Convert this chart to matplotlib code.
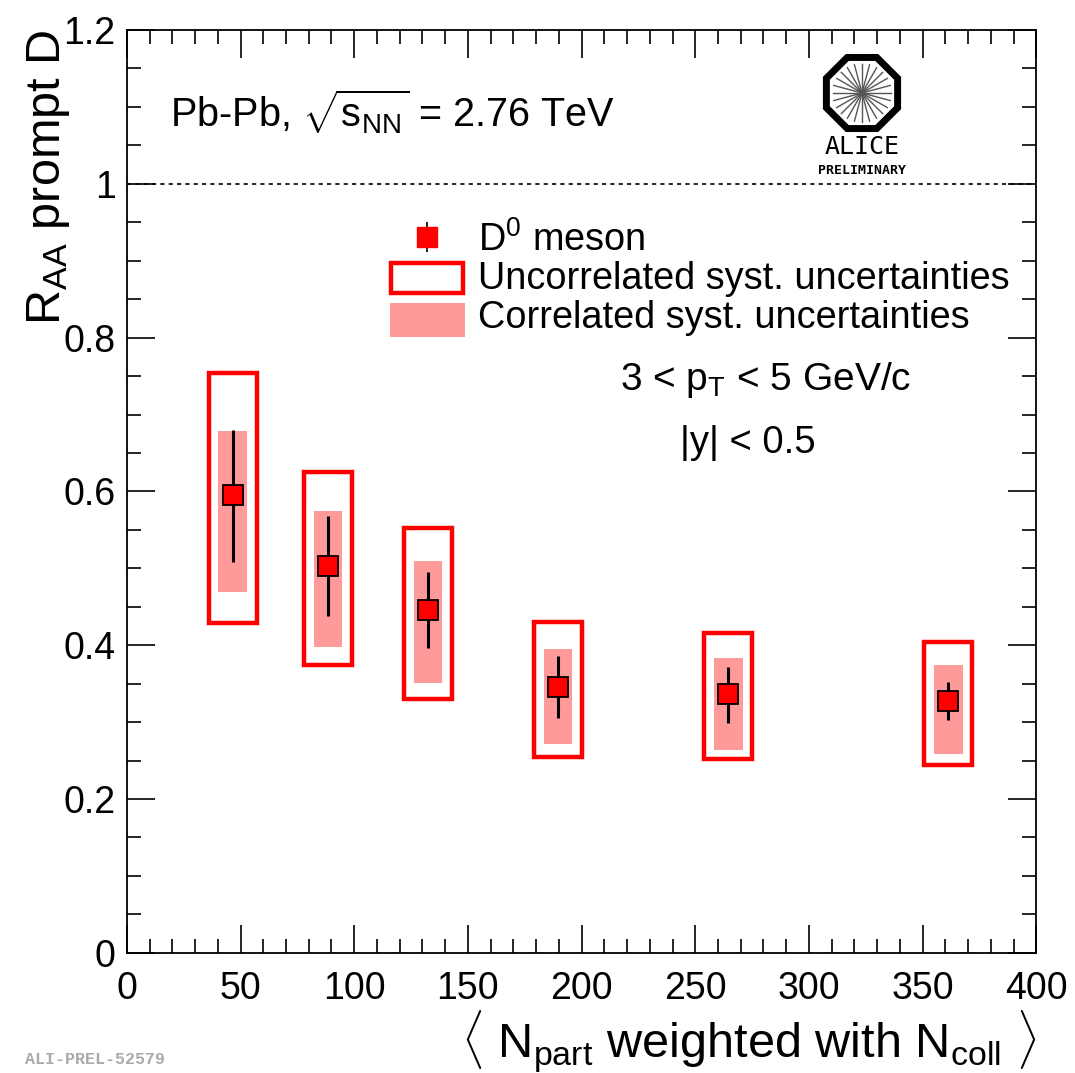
import numpy as np
import matplotlib
matplotlib.use("Agg")
import matplotlib.pyplot as plt
from matplotlib.patches import Rectangle, RegularPolygon
from matplotlib.ticker import MultipleLocator, FormatStrFormatter

plt.rcParams['font.family'] = ['Liberation Sans', 'DejaVu Sans']
plt.rcParams['mathtext.fontset'] = 'custom'
plt.rcParams['mathtext.rm'] = 'Liberation Sans'
plt.rcParams['mathtext.it'] = 'Liberation Sans:italic'
plt.rcParams['mathtext.bf'] = 'Liberation Sans:bold'

# <Npart> weighted with Ncoll
npart = [46.6, 88.4, 132.5, 189.7, 264.5, 361.3]
raa = [0.595, 0.503, 0.446, 0.346, 0.337, 0.328]
stat_lo = [0.508, 0.438, 0.397, 0.305, 0.299, 0.303]
stat_hi = [0.680, 0.568, 0.495, 0.386, 0.372, 0.352]
unc_lo = [0.429, 0.374, 0.330, 0.255, 0.252, 0.244]
unc_hi = [0.754, 0.625, 0.553, 0.430, 0.416, 0.404]
corr_lo = [0.469, 0.398, 0.351, 0.272, 0.264, 0.259]
corr_hi = [0.679, 0.575, 0.510, 0.395, 0.384, 0.374]

unc_hw = 10.5
corr_hw = 6.3
pink = '#ff9a9a'

fig = plt.figure(figsize=(10.75, 10.73), dpi=100)
ax = fig.add_axes([0.118, 0.112, 0.846, 0.860])

for x, lo, hi in zip(npart, corr_lo, corr_hi):
    ax.add_patch(Rectangle((x - corr_hw, lo), 2 * corr_hw, hi - lo,
                           facecolor=pink, edgecolor='none', zorder=2))
for x, lo, hi in zip(npart, unc_lo, unc_hi):
    ax.add_patch(Rectangle((x - unc_hw, lo), 2 * unc_hw, hi - lo,
                           facecolor='none', edgecolor='red', lw=3.2, zorder=3))

y = np.array(raa)
yerr = [y - np.array(stat_lo), np.array(stat_hi) - y]
ax.errorbar(npart, raa, yerr=yerr, fmt='s', color='black', ecolor='black',
            elinewidth=2.2, capsize=0, markersize=14, markerfacecolor='red',
            markeredgecolor='black', markeredgewidth=1.3, zorder=5)

ax.axhline(1.0, color='black', lw=1.2, ls=(0, (2.5, 2.5)), zorder=1)

ax.set_xlim(0, 400)
ax.set_ylim(0, 1.2)
ax.xaxis.set_major_locator(MultipleLocator(50))
ax.xaxis.set_minor_locator(MultipleLocator(10))
ax.yaxis.set_major_locator(MultipleLocator(0.2))
ax.yaxis.set_minor_locator(MultipleLocator(0.05))
ax.yaxis.set_major_formatter(FormatStrFormatter('%g'))
ax.tick_params(which='both', direction='in', top=True, right=True,
               labelsize=27, width=1.2)
ax.tick_params(axis='x', pad=13)
ax.tick_params(axis='y', pad=8)
ax.tick_params(which='major', length=20)
ax.tick_params(which='minor', length=10)
for s in ax.spines.values():
    s.set_linewidth(1.3)

ax.set_ylabel(r'R$_{\mathrm{AA}}$ prompt D', fontsize=35, loc='top', labelpad=-6)
ax.set_xlabel(r'$\langle$ N$_{\mathrm{part}}$ weighted with N$_{\mathrm{coll}}$ $\rangle$',
              fontsize=35, loc='right', labelpad=1)

ax.text(0.047, 0.911, r'Pb-Pb, $\sqrt{\mathrm{s}_{\mathrm{NN}}}$ = 2.76 TeV',
        transform=ax.transAxes, fontsize=28.5, va='center')
ax.text(0.542, 0.621, r'3 < p$_{\mathrm{T}}$ < 5 GeV/c',
        transform=ax.transAxes, fontsize=28, va='center')
ax.text(0.608, 0.5525, '|y| < 0.5', transform=ax.transAxes, fontsize=27.5, va='center')

# legend
ax.errorbar([0.330], [0.776], yerr=[[0.016], [0.016]], fmt='s',
            transform=ax.transAxes, color='black', elinewidth=1.2, capsize=0,
            markersize=14, markerfacecolor='red', markeredgecolor='red',
            clip_on=False, zorder=6)
ax.add_patch(Rectangle((0.291, 0.7155), 0.079, 0.032, transform=ax.transAxes,
                       facecolor='white', edgecolor='red', lw=3.2, zorder=6))
ax.add_patch(Rectangle((0.289, 0.667), 0.083, 0.037, transform=ax.transAxes,
                       facecolor=pink, edgecolor='none', zorder=6))
legend_labels = [r'D$^{\mathrm{0}}$ meson', 'Uncorrelated syst. uncertainties',
                 'Correlated syst. uncertainties']
for i, lab in enumerate(legend_labels):
    ax.text(0.386, 0.773 - i * 0.0425, lab, transform=ax.transAxes,
            fontsize=27.3, va='center')

# ALICE logo
cx, cy, r = 862 / 1075, 1 - 93 / 1073, 0.0385
lax = fig.add_axes([cx - r, cy - r, 2 * r, 2 * r])
lax.set_xlim(-1.02, 1.02)
lax.set_ylim(-1.02, 1.02)
lax.axis('off')
lax.add_patch(RegularPolygon((0, 0), 8, radius=0.95, orientation=np.pi / 8,
                             facecolor='white', edgecolor='black', lw=5))
for a in np.linspace(0, 2 * np.pi, 24, endpoint=False):
    lax.plot([0, 0.72 * np.cos(a)], [0, 0.72 * np.sin(a)], color='#555555', lw=1)
fig.text(cx, 1 - 147 / 1073, 'ALICE', ha='center', va='center', fontsize=18,
         family='DejaVu Sans Mono')
fig.text(cx, 1 - 170 / 1073, 'PRELIMINARY', ha='center', va='center', fontsize=9.5,
         family='DejaVu Sans Mono', weight='bold')

fig.text(25 / 1075, 1 - 1060 / 1073, 'ALI-PREL-52579', ha='left', va='center',
         fontsize=12, family=['Liberation Mono', 'DejaVu Sans Mono'],
         weight='bold', color='#aaaaaa')

fig.savefig('out.png', dpi=100)
